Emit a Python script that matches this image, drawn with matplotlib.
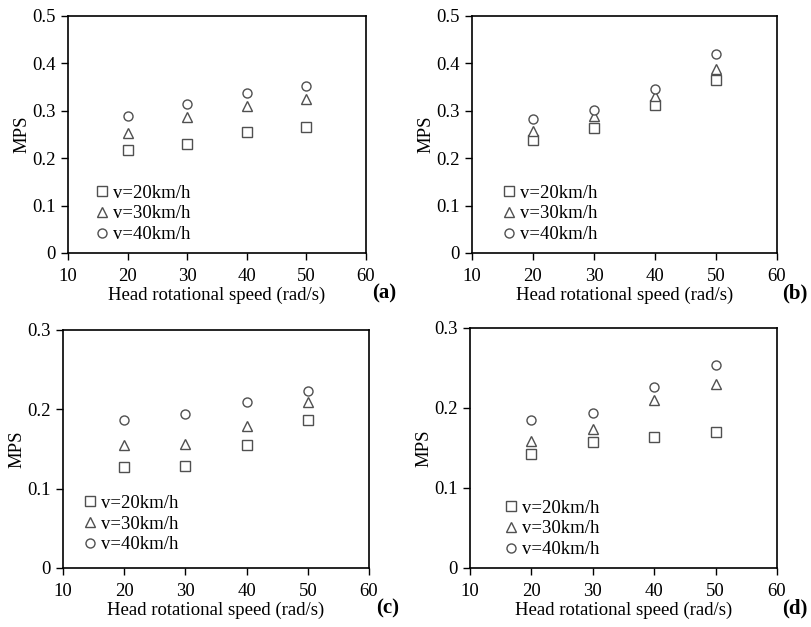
import numpy as np
import matplotlib
matplotlib.use("Agg")
import matplotlib.pyplot as plt

plt.rcParams["font.family"] = ["Liberation Serif", "DejaVu Serif"]

# -------------------- DATA --------------------
speeds = [20, 30, 40, 50]
series_labels = ["v=20km/h", "v=30km/h", "v=40km/h"]

mps_a_20 = [0.217, 0.230, 0.256, 0.265]
mps_a_30 = [0.253, 0.287, 0.311, 0.324]
mps_a_40 = [0.288, 0.314, 0.338, 0.352]

mps_b_20 = [0.238, 0.264, 0.313, 0.366]
mps_b_30 = [0.257, 0.288, 0.331, 0.389]
mps_b_40 = [0.283, 0.302, 0.347, 0.420]

mps_c_20 = [0.127, 0.129, 0.155, 0.186]
mps_c_30 = [0.155, 0.156, 0.179, 0.209]
mps_c_40 = [0.186, 0.194, 0.209, 0.223]

mps_d_20 = [0.143, 0.157, 0.164, 0.170]
mps_d_30 = [0.159, 0.174, 0.210, 0.230]
mps_d_40 = [0.185, 0.194, 0.226, 0.254]

ylims_top = [0, 0.5]
yticks_top = [0, 0.1, 0.2, 0.3, 0.4, 0.5]
ylims_bot = [0, 0.3]
yticks_bot = [0, 0.1, 0.2, 0.3]
xticks = [10, 20, 30, 40, 50, 60]

# -------------------- FIGURE --------------------
W, H = 811, 627
fig = plt.figure(figsize=(W / 100, H / 100), dpi=100)

def px_axes(l, t, r, b):
    return fig.add_axes([l / W, 1 - b / H, (r - l) / W, (b - t) / H])

MARKERS = ["s", "^", "o"]
EC = "#505050"
FS = 13.5

def panel(ax, ys, ylim, yticks, tag, leg_anchor):
    for y, m, lab in zip(ys, MARKERS, series_labels):
        ax.plot(speeds, y, ls="none", marker=m, ms=6.5,
                mfc="white", mec=EC, mew=1.0, label=lab)
    ax.set_xlim(10, 60)
    ax.set_ylim(*ylim)
    ax.set_xticks(xticks)
    ax.set_yticks(yticks)
    ax.set_yticklabels(["0" if v == 0 else f"{v:.1f}" for v in yticks])
    ax.tick_params(direction="out", length=5, width=1, labelsize=FS,
                   top=False, right=False, pad=4)
    ax.tick_params(axis="x", pad=6)
    for s in ax.spines.values():
        s.set_linewidth(1.2)
    ax.set_xlabel("Head rotational speed (rad/s)", fontsize=FS, labelpad=1)
    ax.set_ylabel("MPS", fontsize=FS, labelpad=1)
    ax.legend(loc="center left", bbox_to_anchor=leg_anchor, frameon=False,
              fontsize=FS, handletextpad=0.2, borderaxespad=0, borderpad=0,
              labelspacing=0.2, handlelength=0.8)
    ax.text(1.1, -0.17, tag, transform=ax.transAxes, fontsize=15,
            fontweight="bold", ha="right", va="center")

ax_a = px_axes(68, 16, 366, 253)
panel(ax_a, [mps_a_20, mps_a_30, mps_a_40], ylims_top, yticks_top, "(a)", (0.089, 0.165))

ax_b = px_axes(472, 16, 777, 253)
panel(ax_b, [mps_b_20, mps_b_30, mps_b_40], ylims_top, yticks_top, "(b)", (0.097, 0.165))

ax_c = px_axes(63, 330, 369, 568)
panel(ax_c, [mps_c_20, mps_c_30, mps_c_40], ylims_bot, yticks_bot, "(c)", (0.064, 0.185))

ax_d = px_axes(470, 328, 777, 568)
panel(ax_d, [mps_d_20, mps_d_30, mps_d_40], ylims_bot, yticks_bot, "(d)", (0.109, 0.163))

fig.savefig("out.png", dpi=100)
